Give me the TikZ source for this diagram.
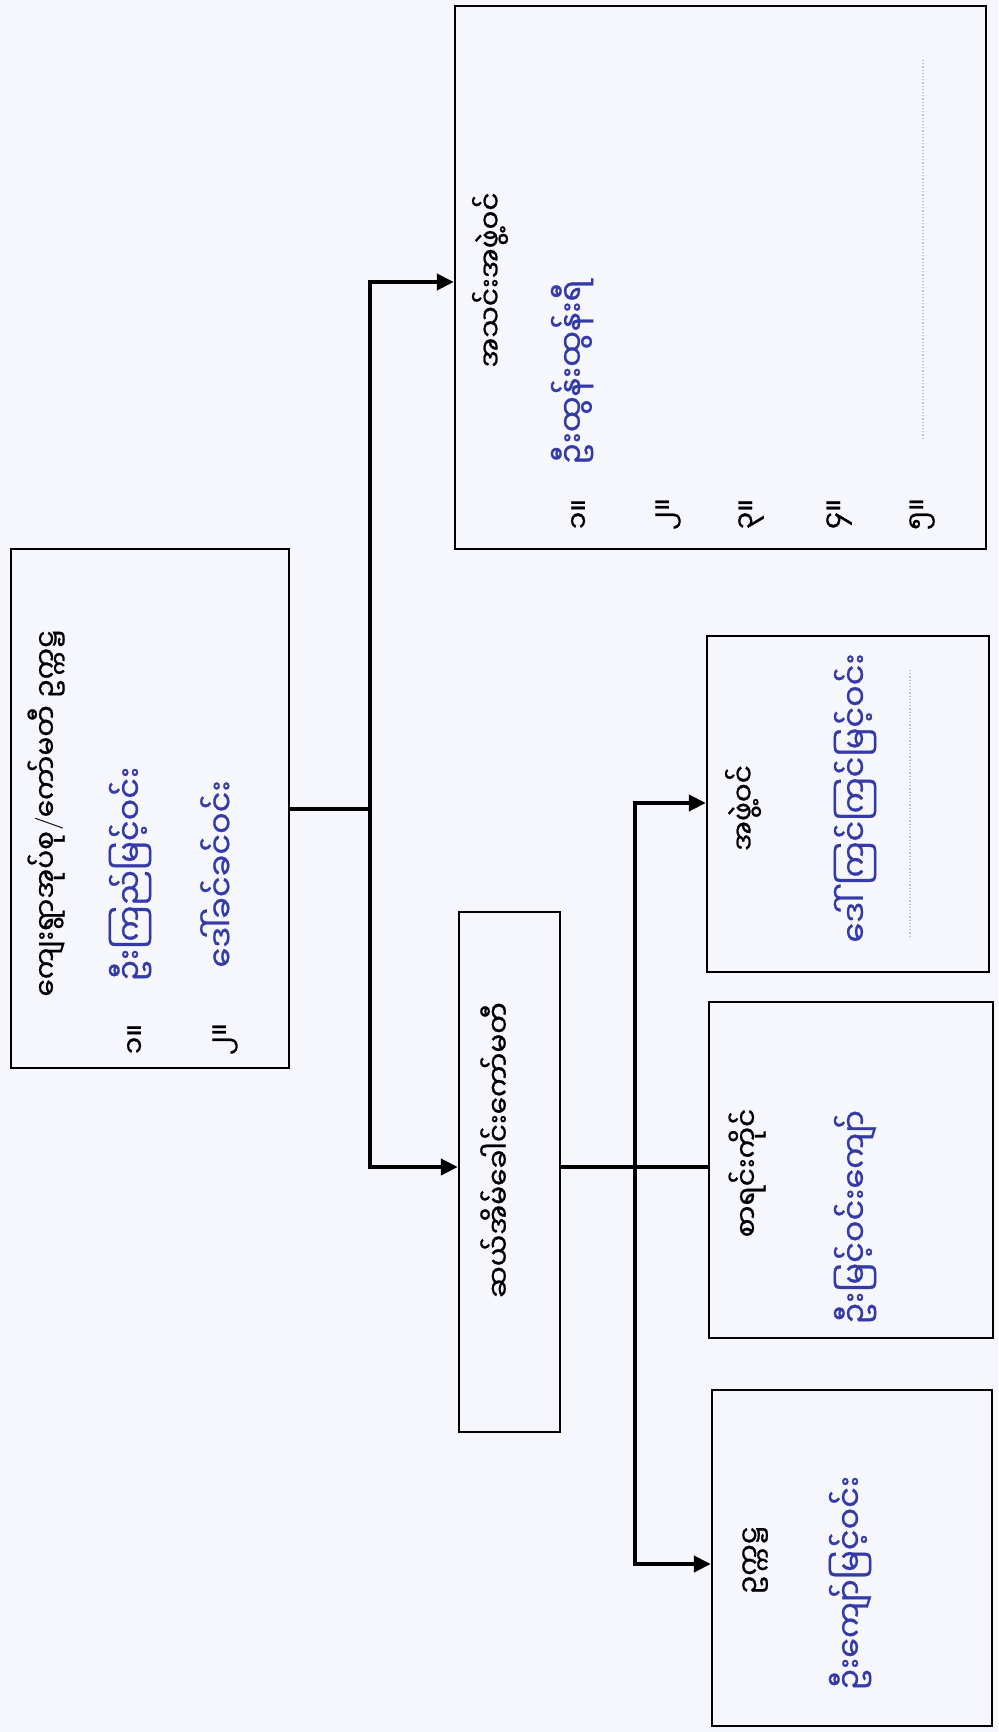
\documentclass[tikz,border=0pt]{standalone}
\usepackage{fontspec}
\usetikzlibrary{arrows.meta}
\newfontfamily\mmfont[Script=Myanmar, FakeBold=0.8]{Noto Sans Myanmar UI}
\definecolor{ink}{RGB}{52,58,168}
\definecolor{paper}{RGB}{246,247,252}
\begin{document}
\begin{tikzpicture}[x=0.5pt,y=-0.5pt]
    \tikzstyle{every node}+=[inner sep=0pt]
    \tikzstyle{box}=[draw=black, line width=1.2pt, rectangle]
    \tikzstyle{txt}=[rotate=90, font=\mmfont\fontsize{14}{16}\selectfont]
    \tikzstyle{hand}=[rotate=90, text=ink, font=\mmfont\fontsize{16}{18}\selectfont]
    \tikzstyle{conn}=[line width=2pt, line cap=rect]
    \tikzstyle{arr}=[line width=2pt, -{Triangle[length=8.5pt,width=8pt]}]
    \tikzstyle{dots}=[gray!45, line width=0.6pt, densely dotted]
    \fill[paper] (0,0) rectangle (998,1732);
    \useasboundingbox (0,0) rectangle (998,1732);
    % boxes
    \node[box, minimum width=139pt, minimum height=259.5pt] (root) at (150,808.5) {};
    \node[box, minimum width=265.5pt, minimum height=271.5pt] (members) at (720.5,277.5) {};
    \node[box, minimum width=50.5pt, minimum height=260pt] (cmte) at (509.5,1172) {};
    \node[box, minimum width=141pt, minimum height=168pt] (memb) at (848,804) {};
    \node[box, minimum width=142pt, minimum height=168pt] (acct) at (851,1170) {};
    \node[box, minimum width=140pt, minimum height=168pt] (chair) at (852,1558) {};
    % texts
    \node[txt] (rootT) at (46,813) {ကျေးရွာအုပ်စု{\normalfont/}ကော်မတီ ဥက္ကဋ္ဌ};
    \node[txt] (rootN1) at (136,1039) {၁။};
    \node[hand] (rootH1) at (130,874) {ဦးကြည်မြင့်ဝင်း};
    \node[txt] (rootN2) at (225,1039) {၂။};
    \node[hand] (rootH2) at (217,874) {ဒေါ်ခင်ခင်ဝင်း};
    \node[txt] (membersT) at (490,280) {အသင်းအဖွဲ့ဝင်};
    \node[hand] (membersH1) at (572,372) {ဦးထွန်းထွန်းရီ};
    \foreach \n/\x in {၁/580,၂/668,၃/751,၄/839,၅/922}
        \node[txt] at (\x,514) {\n။};
    \node[txt] (cmteT) at (495,1150) {ဆယ်အိမ်ခေါင်းကော်မတီ};
    \node[txt] (membT) at (743,808) {အဖွဲ့ဝင်};
    \node[hand] (membH) at (855,798) {ဒေါ်ကြင်ကြင်မြင့်ဝင်း};
    \node[txt] (acctT) at (747,1173) {စာရင်းကိုင်};
    \node[hand] (acctH) at (855,1217) {ဦးမြင့်ဝင်းကျော်};
    \node[txt] (chairT) at (755,1560) {ဥက္ကဋ္ဌ};
    \node[hand] (chairH) at (850,1583) {ဦးကျော်မြင့်ဝင်း};
    \draw[dots] (923,60) -- (923,440);
    \draw[dots] (910,670) -- (910,937);
    % connectors
    \coordinate (tTop) at (370,282);
    \coordinate (tBot) at (370,1167);
    \coordinate (sTop) at (635,803);
    \coordinate (sBot) at (635,1564);
    \draw[conn] (root.east) -- (root.east -| tTop);
    \draw[conn] (tTop) -- (tBot);
    \draw[arr] (tTop) -- (members.west |- tTop);
    \draw[arr] (tBot) -- (cmte.west |- tBot);
    \draw[conn] (cmte.east |- tBot) -- (acct.west |- tBot);
    \draw[conn] (sTop) -- (sBot);
    \draw[arr] (sTop) -- (memb.west |- sTop);
    \draw[arr] (sBot) -- (chair.west |- sBot);
\end{tikzpicture}
\end{document}
